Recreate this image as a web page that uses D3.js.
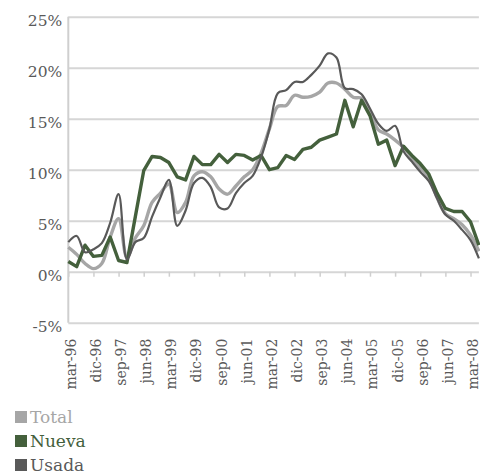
<!DOCTYPE html>
<html>
<head>
<meta charset="utf-8">
<script src="https://cdn.jsdelivr.net/npm/d3@7"></script>
<style>
  body { margin: 0; background: #fff; }
  svg { display: block; font-family: "DejaVu Serif", serif; }
</style>
</head>
<body>
<div id="vis"></div>
<script>
const WIDTH = 480;
const HEIGHT = 475;
const margins = [68.3, 1.1, 16.7, 152.3]; // izquierda, derecha, arriba, abajo

// trimestres, mar-96 a jun-08
const categorias = ["mar-96","jun-96","sep-96","dic-96","mar-97","jun-97","sep-97","dic-97",
  "mar-98","jun-98","sep-98","dic-98","mar-99","jun-99","sep-99","dic-99",
  "mar-00","jun-00","sep-00","dic-00","mar-01","jun-01","sep-01","dic-01",
  "mar-02","jun-02","sep-02","dic-02","mar-03","jun-03","sep-03","dic-03",
  "mar-04","jun-04","sep-04","dic-04","mar-05","jun-05","sep-05","dic-05",
  "mar-06","jun-06","sep-06","dic-06","mar-07","jun-07","sep-07","dic-07",
  "mar-08","jun-08"];

const etiquetas_x = ["mar-96","dic-96","sep-97","jun-98","mar-99","dic-99","sep-00","jun-01",
  "mar-02","dic-02","sep-03","jun-04","mar-05","dic-05","sep-06","jun-07","mar-08"];

const ticks_y = [-5, 0, 5, 10, 15, 20, 25];

const total = [2.4, 1.7, 0.8, 0.3, 0.8, 3.4, 5.2, 1.4, 3.3, 4.5,
  6.8, 7.7, 8.6, 5.8, 6.8, 9.4, 9.8, 9.3, 8.1, 7.6,
  8.4, 9.3, 10.0, 11.6, 14.0, 16.2, 16.3, 17.3, 17.1, 17.2,
  17.6, 18.5, 18.5, 17.9, 17.1, 17.0, 15.7, 13.9, 13.5, 12.9,
  12.2, 11.2, 10.2, 9.3, 7.3, 5.7, 5.2, 4.6, 3.6, 2.0];

const nueva = [1.0, 0.5, 2.6, 1.5, 1.6, 3.4, 1.1, 0.9, 5.4, 9.9,
  11.3, 11.2, 10.7, 9.3, 9.0, 11.3, 10.5, 10.5, 11.5, 10.7,
  11.5, 11.4, 10.95, 11.4, 10.0, 10.2, 11.4, 11.0, 12.0, 12.2,
  12.9, 13.2, 13.5, 16.8, 14.2, 16.8, 15.3, 12.5, 12.9, 10.4,
  12.3, 11.4, 10.6, 9.6, 7.7, 6.2, 5.9, 5.9, 4.9, 2.6];

const usada = [2.9, 3.5, 1.9, 2.2, 2.8, 4.8, 7.6, 1.2, 2.9, 3.3,
  5.4, 7.3, 9.0, 4.5, 6.0, 8.7, 9.2, 8.3, 6.3, 6.2,
  7.7, 8.7, 9.4, 11.2, 14.0, 17.5, 17.8, 18.6, 18.6, 19.3,
  20.2, 21.4, 21.0, 18.0, 17.9, 17.4, 16.0, 14.5, 13.8, 14.3,
  11.8, 10.8, 9.8, 8.9, 7.2, 5.6, 5.0, 4.1, 3.1, 1.3];

const series = [
  { nombre: "Total", valores: total, color: "#a6a6a6", ancho: 3.4, suave: true },
  { nombre: "Nueva", valores: nueva, color: "#44603c", ancho: 3.4, suave: false },
  { nombre: "Usada", valores: usada, color: "#595959", ancho: 2.2, suave: true }
];

const SVG = d3.select("#vis").append("svg")
  .attr("width", WIDTH).attr("height", HEIGHT);

// Escalas
const escala_x = d3.scalePoint()
  .domain(categorias)
  .range([margins[0], WIDTH - margins[1]]);

const escala_y = d3.scaleLinear()
  .domain([-5, 25])
  .range([HEIGHT - margins[3], margins[2]]);

// Grilla y etiquetas eje y
const ejeY = SVG.append("g")
  .attr("transform", `translate(${margins[0]},0)`)
  .call(d3.axisLeft(escala_y)
    .tickValues(ticks_y)
    .tickSize(-(WIDTH - margins[0] - margins[1]))
    .tickPadding(6)
    .tickFormat(d => d + "%"));
ejeY.select(".domain").remove();
ejeY.selectAll(".tick line").attr("stroke", "#d6d6d6").attr("stroke-width", 2);
ejeY.selectAll(".tick text")
  .attr("fill", "#595959")
  .attr("font-size", 15.5)
  .attr("font-family", "DejaVu Serif")
  .attr("dy", "0.55em");

// linea vertical del eje
SVG.append("line")
  .attr("x1", margins[0]).attr("x2", margins[0])
  .attr("y1", escala_y(25)).attr("y2", escala_y(-5))
  .attr("stroke", "#cfcfcf").attr("stroke-width", 2);

// marcas del eje x en 0%
const marcas = SVG.append("g")
  .attr("transform", `translate(0,${escala_y(0)})`)
  .call(d3.axisBottom(escala_x).tickValues(etiquetas_x).tickSize(5).tickFormat(""));
marcas.select(".domain").remove();
marcas.selectAll(".tick line").attr("stroke", "#cfcfcf").attr("stroke-width", 1.5);

// etiquetas eje x
const ejeX = SVG.append("g")
  .attr("transform", `translate(0,${escala_y(-5)})`)
  .call(d3.axisBottom(escala_x).tickValues(etiquetas_x).tickSize(0).tickPadding(0));
ejeX.select(".domain").remove();
ejeX.selectAll(".tick text")
  .attr("fill", "#595959")
  .attr("font-size", 14)
  .attr("font-family", "DejaVu Serif")
  .attr("text-anchor", "end")
  .attr("transform", "rotate(-90)")
  .attr("x", -16)
  .attr("y", 0)
  .attr("dy", "0.5em");

// Lineas
const lineas = SVG.append("g");
series.forEach(s => {
  const linea = d3.line()
    .x((d, i) => escala_x(categorias[i]))
    .y(d => escala_y(d))
    .curve(s.suave ? d3.curveCatmullRom : d3.curveLinear);
  lineas.append("path")
    .datum(s.valores)
    .attr("d", linea)
    .attr("fill", "none")
    .attr("stroke", s.color)
    .attr("stroke-width", s.ancho)
    .attr("stroke-linejoin", "round");
});

// Leyenda
const leyenda = SVG.append("g").attr("transform", "translate(15,411)");
series.forEach((s, i) => {
  const g = leyenda.append("g").attr("transform", `translate(0,${i * 24})`);
  g.append("rect")
    .attr("width", 12).attr("height", 12)
    .attr("fill", s.color);
  g.append("text")
    .attr("x", 15).attr("y", 12)
    .attr("fill", s.color)
    .attr("font-size", 17)
    .text(s.nombre);
});
</script>
</body>
</html>
